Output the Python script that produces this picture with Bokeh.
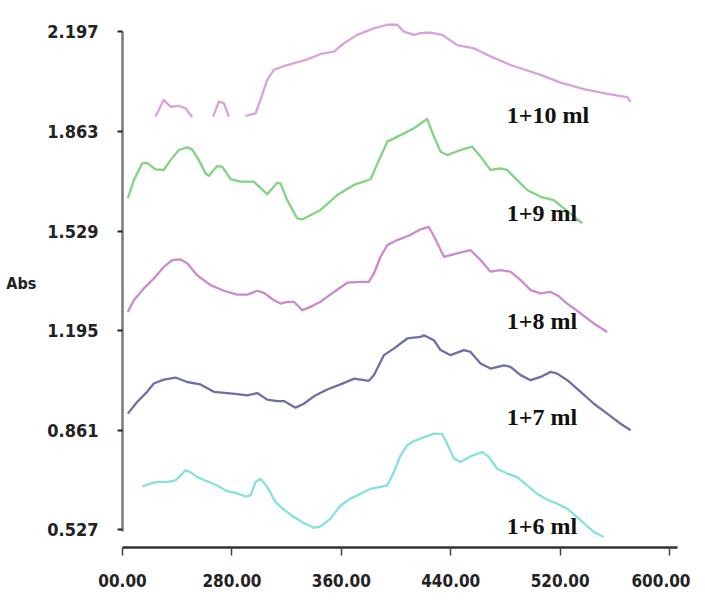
import numpy as np
from bokeh.plotting import figure
from bokeh.models import FixedTicker, Range1d
from bokeh.core.properties import value
from bokeh.embed import file_html
from bokeh.resources import INLINE

nan = np.nan

# ---- data (wavelength nm, absorbance) ----
x_ticks = [200, 280, 360, 440, 520, 600]
x_tick_labels = ["00.00", "280.00", "360.00", "440.00", "520.00", "600.00"]
y_ticks = [0.527, 0.861, 1.195, 1.529, 1.863, 2.197]
y_tick_labels = ["0.527", "0.861", "1.195", "1.529", "1.863", "2.197"]

x_10 = [224.1, 230.2, 235.1, 241.2, 246.1, 251.0, nan,
        266.3, 270.4, 274.1, 277.8, nan,
        289.9, 297.3, 300.9, 305.8, 310.7, 320.4, 335.1, 344.8, 354.6, 361.9,
        371.6, 383.8, 393.6, 400.9, 405.7, 413.1, 417.9, 425.2, 433.8, 444.7,
        456.9, 466.7, 483.7, 505.7, 520.3, 537.4, 554.4, 569.1, 571.5]
y_10 = [1.913, 1.969, 1.946, 1.949, 1.941, 1.911, nan,
        1.913, 1.963, 1.958, 1.913, nan,
        1.915, 1.924, 1.969, 2.036, 2.070, 2.086, 2.105, 2.123, 2.131, 2.159,
        2.187, 2.209, 2.221, 2.221, 2.198, 2.187, 2.193, 2.195, 2.187, 2.153,
        2.142, 2.120, 2.086, 2.053, 2.027, 2.005, 1.989, 1.978, 1.963]

x_9 = [203.9, 208.3, 214.4, 218.0, 224.1, 230.2, 235.1, 241.2, 247.3, 250.9,
       255.8, 260.7, 263.1, 269.2, 272.9, 279.0, 286.3, 296.0, 305.8, 313.1,
       315.5, 320.4, 327.7, 331.4, 344.8, 357.0, 369.2, 381.4, 387.5, 393.6,
       403.3, 413.1, 422.8, 427.7, 432.6, 437.4, 447.2, 455.7, 461.8, 469.1,
       476.4, 481.3, 488.6, 495.9, 505.7, 515.4, 522.8, 536.2]
y_9 = [1.639, 1.700, 1.756, 1.758, 1.736, 1.734, 1.767, 1.801, 1.810, 1.803,
       1.767, 1.723, 1.714, 1.747, 1.745, 1.703, 1.695, 1.695, 1.653, 1.691,
       1.689, 1.633, 1.572, 1.568, 1.600, 1.650, 1.684, 1.703, 1.767, 1.829,
       1.851, 1.874, 1.905, 1.846, 1.795, 1.784, 1.801, 1.812, 1.779, 1.734,
       1.739, 1.734, 1.700, 1.667, 1.644, 1.633, 1.605, 1.555]

x_8 = [203.9, 208.3, 215.6, 222.9, 230.2, 236.3, 242.4, 247.3, 254.6, 264.4,
       274.1, 283.9, 291.2, 298.5, 303.4, 310.7, 315.5, 320.4, 325.3, 331.4,
       337.5, 344.8, 354.6, 364.3, 374.1, 380.1, 383.8, 388.7, 393.6, 400.9,
       410.0, 418.0, 424.0, 428.5, 435.0, 444.7, 454.5, 461.8, 469.1, 476.4,
       483.7, 491.1, 498.4, 505.7, 513.0, 517.9, 525.2, 535.0, 544.7, 554.4]
y_8 = [1.258, 1.297, 1.337, 1.370, 1.409, 1.432, 1.434, 1.421, 1.381, 1.348,
       1.329, 1.316, 1.316, 1.329, 1.322, 1.297, 1.286, 1.292, 1.292, 1.264,
       1.275, 1.292, 1.325, 1.356, 1.359, 1.359, 1.387, 1.443, 1.482, 1.499,
       1.515, 1.535, 1.543, 1.505, 1.443, 1.454, 1.465, 1.432, 1.393, 1.398,
       1.393, 1.365, 1.331, 1.320, 1.325, 1.314, 1.286, 1.253, 1.219, 1.191]

x_7 = [203.9, 210.7, 218.0, 222.9, 230.2, 238.8, 247.3, 257.0, 266.8, 276.5,
       283.9, 291.2, 298.5, 305.8, 313.1, 318.0, 326.5, 332.6, 339.9, 349.7,
       359.4, 369.2, 374.1, 380.1, 383.8, 391.1, 398.4, 408.2, 417.9, 420.4,
       427.7, 432.6, 439.9, 449.6, 454.5, 461.8, 469.1, 478.9, 483.7, 491.1,
       498.4, 505.7, 513.0, 517.9, 525.2, 535.0, 544.7, 554.4, 564.2, 571.5]
y_7 = [0.917, 0.956, 0.990, 1.018, 1.031, 1.038, 1.023, 1.015, 0.990, 0.986,
       0.982, 0.978, 0.986, 0.964, 0.959, 0.959, 0.937, 0.950, 0.975, 0.998,
       1.015, 1.034, 1.031, 1.027, 1.046, 1.113, 1.135, 1.169, 1.174, 1.180,
       1.163, 1.130, 1.113, 1.130, 1.124, 1.085, 1.068, 1.079, 1.074, 1.046,
       1.029, 1.040, 1.057, 1.051, 1.029, 0.990, 0.950, 0.917, 0.883, 0.861]

x_6 = [214.4, 220.5, 225.4, 232.7, 238.8, 242.4, 246.1, 249.7, 254.6, 261.9,
       269.2, 276.5, 282.6, 289.9, 293.6, 297.3, 300.9, 305.8, 311.9, 318.0,
       325.3, 332.6, 339.9, 344.8, 352.1, 359.4, 366.7, 374.1, 381.4, 388.7,
       393.6, 398.4, 403.3, 408.2, 413.1, 417.9, 427.7, 433.8, 437.4, 442.3,
       447.2, 454.5, 463.0, 467.9, 474.0, 481.3, 488.6, 495.9, 503.2, 510.6,
       517.9, 525.2, 535.0, 544.7, 552.0]
y_6 = [0.673, 0.682, 0.688, 0.688, 0.693, 0.710, 0.727, 0.721, 0.704, 0.690,
       0.676, 0.657, 0.651, 0.639, 0.643, 0.688, 0.699, 0.671, 0.620, 0.595,
       0.570, 0.550, 0.534, 0.539, 0.565, 0.609, 0.632, 0.648, 0.665, 0.671,
       0.676, 0.721, 0.777, 0.811, 0.825, 0.833, 0.850, 0.848, 0.816, 0.766,
       0.755, 0.774, 0.788, 0.772, 0.732, 0.716, 0.704, 0.676, 0.648, 0.628,
       0.615, 0.598, 0.559, 0.520, 0.503]

series_names = ["1+10 ml", "1+9 ml", "1+8 ml", "1+7 ml", "1+6 ml"]
series_colors = ["#d7a3d9", "#84d384", "#cc8acb", "#6f6fa6", "#86e0dc"]
label_x = [481.0, 481.0, 481.0, 481.0, 481.0]
label_y = [1.918, 1.591, 1.227, 0.905, 0.539]

AXIS_FONT = "DejaVu Sans Condensed"

p = figure(width=690, height=596, output_backend="svg", toolbar_location=None,
           x_range=Range1d(200, 608), y_range=Range1d(0.468, 2.242),
           min_border_left=122, min_border_right=10, min_border_top=18,
           min_border_bottom=49)
p.outline_line_color = None
p.xgrid.visible = False
p.ygrid.visible = False
p.background_fill_color = "white"
p.border_fill_color = "white"

xs = [x_10, x_9, x_8, x_7, x_6]
ys = [y_10, y_9, y_8, y_7, y_6]
for xv, yv, c in zip(xs, ys, series_colors):
    p.line(xv, yv, line_color=c, line_width=2.3, line_join="round")

p.text(x=label_x, y=label_y, text=series_names, text_font=value("Liberation Serif"),
       text_font_style="bold", text_font_size="24px", text_color="#111111",
       text_baseline="middle", text_align="left")

# axes
xa = p.xaxis[0]
xa.ticker = FixedTicker(ticks=x_ticks)
xa.major_label_overrides = {t: s for t, s in zip(x_ticks, x_tick_labels)}
xa.minor_tick_line_color = None
xa.major_tick_out = 8
xa.major_tick_in = 0
xa.major_tick_line_color = "#444444"
xa.major_tick_line_width = 1.5
xa.axis_line_color = "#333333"
xa.axis_line_width = 2.5
xa.bounds = (200, 606)
xa.major_label_standoff = 18
xa.major_label_text_font = AXIS_FONT
xa.major_label_text_font_style = "bold"
xa.major_label_text_font_size = "17px"
xa.major_label_text_color = "#222222"

ya = p.yaxis[0]
ya.ticker = FixedTicker(ticks=y_ticks)
ya.major_label_overrides = {t: s for t, s in zip(y_ticks, y_tick_labels)}
ya.minor_tick_line_color = None
ya.major_tick_out = 5
ya.major_tick_in = 0
ya.major_tick_line_color = "#222222"
ya.major_tick_line_width = 2
ya.axis_line_color = "#7a7a7a"
ya.axis_line_width = 2.5
ya.bounds = (0.52, 2.197)
ya.major_label_standoff = 19
ya.major_label_text_font = AXIS_FONT
ya.major_label_text_font_style = "bold"
ya.major_label_text_font_size = "18px"
ya.major_label_text_color = "#222222"
ya.axis_label = "Abs"
ya.axis_label_orientation = "horizontal"
ya.axis_label_standoff = 8
ya.axis_label_text_font = AXIS_FONT
ya.axis_label_text_font_style = "bold"
ya.axis_label_text_font_size = "16px"
ya.axis_label_text_color = "#222222"

open("out.html", "w").write(file_html(p, INLINE))
